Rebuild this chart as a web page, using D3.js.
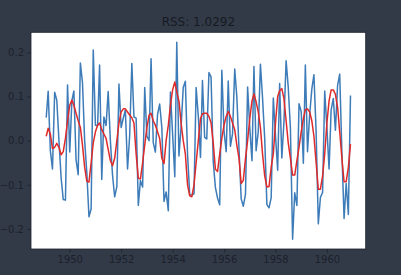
<!DOCTYPE html>
<html>
<head>
<meta charset="utf-8">
<script src="https://cdn.jsdelivr.net/npm/d3@7"></script>
<style>
  html, body { margin: 0; padding: 0; background: #323a48; }
  svg { display: block; }
  text { font-family: "DejaVu Sans", sans-serif; }
</style>
</head>
<body>
<script>
// log-diff series, one month per value, starting 1949-02
var diff_1949 = [0.0522, 0.1121, -0.0230, -0.0640, 0.1095, 0.0919, 0.0000, -0.0846, -0.1335, -0.1347, 0.1263];
var diff_1950 = [-0.0258, 0.0914, 0.1125, -0.0435, -0.0770, 0.1756, 0.1319, 0.0000, -0.0732, -0.1723, -0.1542, 0.2054];
var diff_1951 = [0.0351, 0.0339, 0.1712, -0.0880, 0.0537, 0.0343, 0.1115, 0.0000, -0.0784, -0.1273, -0.1040, 0.1284];
var diff_1952 = [0.0297, 0.0513, 0.0697, -0.0642, 0.0110, 0.1750, 0.0536, 0.0509, -0.1466, -0.0901, -0.1048, 0.1204];
var diff_1953 = [0.0103, 0.0000, 0.1857, -0.0043, -0.0259, 0.0593, 0.0829, 0.0299, -0.1377, -0.1162, -0.1589, 0.1104];
var diff_1954 = [0.0148, -0.0817, 0.2231, -0.0346, 0.0304, 0.1206, 0.1345, -0.0303, -0.1233, -0.1231, -0.1205, 0.1205];
var diff_1955 = [0.0552, -0.0379, 0.1362, 0.0075, 0.0037, 0.1542, 0.1446, -0.0478, -0.1063, -0.1299, -0.1451, 0.1596];
var diff_1956 = [0.0214, -0.0250, 0.1349, -0.0127, 0.0159, 0.1622, 0.0992, -0.0196, -0.1318, -0.1485, -0.1215, 0.1215];
var diff_1957 = [0.0290, -0.0455, 0.1678, -0.0227, 0.0199, 0.1729, 0.0970, 0.0043, -0.1449, -0.1521, -0.1290, 0.0968];
var diff_1958 = [0.0118, -0.0669, 0.1296, -0.0394, 0.0422, 0.1809, 0.1211, 0.0281, -0.2231, -0.1181, -0.1468, 0.0835];
var diff_1959 = [0.0660, -0.0513, 0.1715, -0.0249, 0.0588, 0.1167, 0.1493, 0.0199, -0.1884, -0.1289, -0.1172, 0.1122];
var diff_1960 = [0.0292, -0.0644, 0.0692, 0.0955, 0.0236, 0.1253, 0.1507, -0.0261, -0.1764, -0.0971, -0.1673, 0.1023];

// fitted values
var fit_1949 = [0.010, 0.028, 0.015, -0.018, -0.015, -0.006, -0.015, -0.032, -0.025, 0.005, 0.045];
var fit_1950 = [0.080, 0.092, 0.080, 0.062, 0.045, 0.030, -0.010, -0.060, -0.092, -0.094, -0.050, -0.005];
var fit_1951 = [0.020, 0.035, 0.040, 0.025, 0.015, 0.005, -0.020, -0.045, -0.057, -0.040, 0.000, 0.040];
var fit_1952 = [0.065, 0.072, 0.072, 0.065, 0.058, 0.052, 0.040, -0.030, -0.085, -0.087, -0.050, -0.010];
var fit_1953 = [0.030, 0.058, 0.062, 0.045, 0.035, 0.020, 0.005, -0.040, -0.052, 0.000, 0.035, 0.080];
var fit_1954 = [0.115, 0.133, 0.110, 0.090, 0.040, 0.000, -0.030, -0.100, -0.125, -0.127, -0.100, -0.050];
var fit_1955 = [0.000, 0.050, 0.061, 0.062, 0.062, 0.055, 0.040, -0.005, -0.065, -0.070, -0.030, 0.005];
var fit_1956 = [0.035, 0.055, 0.066, 0.055, 0.040, 0.025, -0.010, -0.040, -0.097, -0.090, -0.040, 0.000];
var fit_1957 = [0.050, 0.090, 0.106, 0.088, 0.065, 0.030, -0.030, -0.080, -0.105, -0.104, -0.060, -0.030];
var fit_1958 = [0.040, 0.100, 0.113, 0.118, 0.095, 0.045, -0.005, -0.040, -0.078, -0.078, -0.045, -0.015];
var fit_1959 = [0.020, 0.050, 0.070, 0.072, 0.065, 0.045, 0.010, -0.050, -0.110, -0.110, -0.080, -0.030];
var fit_1960 = [0.040, 0.090, 0.115, 0.115, 0.105, 0.075, 0.020, -0.040, -0.093, -0.093, -0.060, -0.008];

var year_ticks = [1950, 1952, 1954, 1956, 1958, 1960];
var value_ticks = [-0.2, -0.1, 0.0, 0.1, 0.2];
var title = "RSS: 1.0292";

function draw_chart() {

  var diff = [].concat(diff_1949, diff_1950, diff_1951, diff_1952, diff_1953, diff_1954,
    diff_1955, diff_1956, diff_1957, diff_1958, diff_1959, diff_1960);
  var fitted = [].concat(fit_1949, fit_1950, fit_1951, fit_1952, fit_1953, fit_1954,
    fit_1955, fit_1956, fit_1957, fit_1958, fit_1959, fit_1960);

  function month(i) { return new Date(1949, 1 + i, 1); }

  var width = 401, height = 275;
  var plotLeft = 31, plotRight = 365.7, plotTop = 32.3, plotBottom = 249;

  var svg = d3.select("body")
    .append("svg")
      .attr("width", width)
      .attr("height", height);

  svg.append("rect")
    .attr("width", width)
    .attr("height", height)
    .attr("fill", "#323a48");

  // matplotlib style 5% margins
  var tExt = d3.extent(diff, function(d, i) { return +month(i); });
  var tPad = (tExt[1] - tExt[0]) * 0.05;
  var vExt = d3.extent(diff.concat(fitted));
  var vPad = (vExt[1] - vExt[0]) * 0.05;

  var x = d3.scaleTime()
    .domain([new Date(tExt[0] - tPad), new Date(tExt[1] + tPad)])
    .range([plotLeft, plotRight]);

  var y = d3.scaleLinear()
    .domain([vExt[0] - vPad, vExt[1] + vPad])
    .range([plotBottom, plotTop]);

  svg.append("rect")
    .attr("x", plotLeft)
    .attr("y", plotTop)
    .attr("width", plotRight - plotLeft)
    .attr("height", plotBottom - plotTop)
    .attr("fill", "#ffffff");

  var line = d3.line()
    .x(function(d, i) { return x(month(i)); })
    .y(function(d) { return y(d); });

  svg.append("path")
    .datum(diff)
    .attr("d", line)
    .attr("fill", "none")
    .attr("stroke", "#3d7cb8")
    .attr("stroke-width", 1.5)
    .attr("stroke-linejoin", "round");

  svg.append("path")
    .datum(fitted)
    .attr("d", line)
    .attr("fill", "none")
    .attr("stroke", "#e02a2a")
    .attr("stroke-width", 1.5)
    .attr("stroke-linejoin", "round");

  var xAxis = svg.append("g")
    .attr("transform", "translate(0," + plotBottom + ")")
    .call(d3.axisBottom(x)
      .tickValues(year_ticks.map(function(yr) { return new Date(yr, 0, 1); }))
      .tickFormat(d3.timeFormat("%Y"))
      .tickSize(3.5)
      .tickPadding(3.5));

  var yAxis = svg.append("g")
    .attr("transform", "translate(" + plotLeft + ",0)")
    .call(d3.axisLeft(y)
      .tickValues(value_ticks)
      .tickFormat(d3.format(".1f"))
      .tickSize(3.5)
      .tickPadding(3.5));

  [xAxis, yAxis].forEach(function(ax) {
    ax.selectAll("text")
      .attr("font-size", 10)
      .attr("font-family", "DejaVu Sans, sans-serif")
      .attr("fill", "#1c212b");
    ax.selectAll("line").attr("stroke", "#1c212b").attr("stroke-width", 0.8);
    ax.select(".domain").remove();
  });

  // spines
  svg.append("rect")
    .attr("x", plotLeft)
    .attr("y", plotTop)
    .attr("width", plotRight - plotLeft)
    .attr("height", plotBottom - plotTop)
    .attr("fill", "none")
    .attr("stroke", "#1c212b")
    .attr("stroke-width", 0.8);

  svg.append("text")
    .attr("x", (plotLeft + plotRight) / 2)
    .attr("y", 26)
    .attr("text-anchor", "middle")
    .attr("font-size", 12)
    .attr("fill", "#151a22")
    .text(title);
}

draw_chart();
</script>
</body>
</html>
